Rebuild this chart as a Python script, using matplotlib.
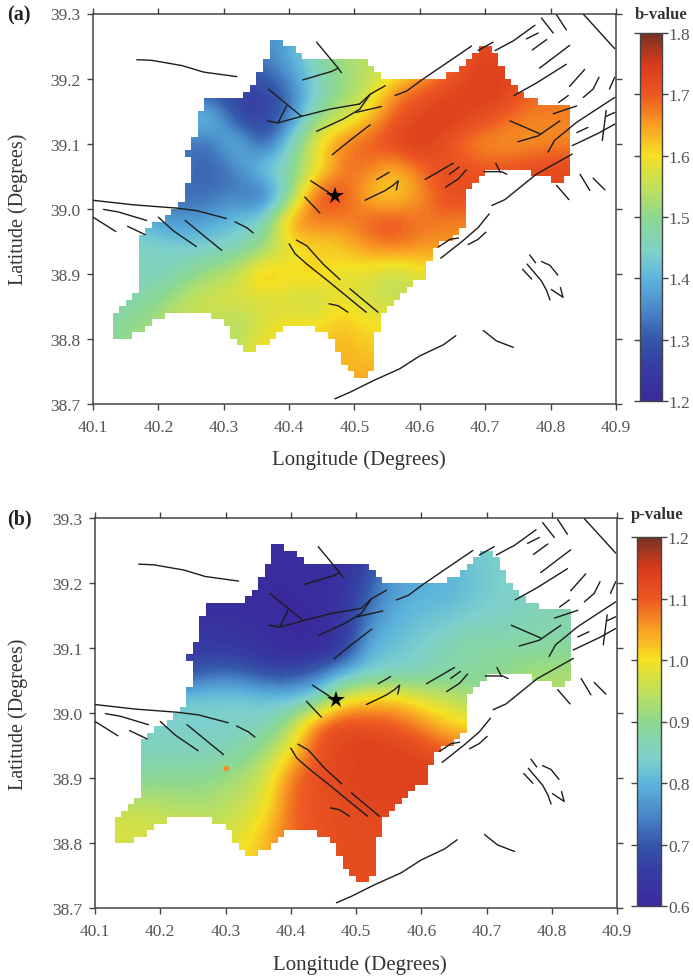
import numpy as np
import matplotlib
matplotlib.use('Agg')
import matplotlib.pyplot as plt
from matplotlib.colors import LinearSegmentedColormap
from matplotlib.patches import Polygon

plt.rcParams['font.family'] = ['Liberation Serif', 'DejaVu Serif']

W, H = 693, 979

# grid nodes of the value maps
grid_lon = [40.12, 40.16, 40.20, 40.24, 40.28, 40.32, 40.36, 40.40, 40.44, 40.48,
            40.52, 40.56, 40.60, 40.64, 40.68, 40.72, 40.76, 40.80, 40.84]
grid_lat = [39.26, 39.22, 39.18, 39.14, 39.10, 39.06, 39.02, 38.98, 38.94, 38.90, 38.86, 38.82, 38.78, 38.74]

b_values = [
    [1.30, 1.30, 1.30, 1.30, 1.30, 1.30, 1.36, 1.38, 1.48, 1.52, 1.55, 1.58, 1.60, 1.65, 1.72, 1.72, 1.70, 1.70, 1.70],
    [1.30, 1.30, 1.30, 1.30, 1.30, 1.30, 1.33, 1.38, 1.46, 1.52, 1.54, 1.55, 1.60, 1.68, 1.73, 1.74, 1.72, 1.70, 1.70],
    [1.28, 1.28, 1.28, 1.28, 1.27, 1.27, 1.26, 1.32, 1.44, 1.50, 1.55, 1.66, 1.70, 1.72, 1.74, 1.75, 1.70, 1.68, 1.68],
    [1.42, 1.42, 1.42, 1.42, 1.45, 1.26, 1.26, 1.32, 1.50, 1.55, 1.62, 1.70, 1.73, 1.76, 1.73, 1.70, 1.67, 1.67, 1.67],
    [1.33, 1.33, 1.33, 1.33, 1.31, 1.45, 1.27, 1.45, 1.60, 1.68, 1.70, 1.73, 1.76, 1.70, 1.66, 1.65, 1.65, 1.66, 1.66],
    [1.33, 1.33, 1.33, 1.33, 1.31, 1.33, 1.46, 1.47, 1.57, 1.67, 1.68, 1.62, 1.68, 1.72, 1.71, 1.70, 1.72, 1.73, 1.73],
    [1.35, 1.33, 1.30, 1.32, 1.32, 1.35, 1.28, 1.47, 1.72, 1.72, 1.62, 1.60, 1.65, 1.72, 1.72, 1.72, 1.72, 1.72, 1.72],
    [1.42, 1.42, 1.38, 1.36, 1.38, 1.42, 1.45, 1.68, 1.68, 1.66, 1.70, 1.72, 1.68, 1.68, 1.66, 1.66, 1.66, 1.66, 1.66],
    [1.46, 1.46, 1.45, 1.44, 1.44, 1.46, 1.50, 1.58, 1.60, 1.62, 1.66, 1.68, 1.66, 1.65, 1.65, 1.65, 1.65, 1.65, 1.65],
    [1.47, 1.46, 1.44, 1.48, 1.53, 1.55, 1.66, 1.60, 1.63, 1.58, 1.58, 1.54, 1.58, 1.60, 1.60, 1.60, 1.60, 1.60, 1.60],
    [1.46, 1.47, 1.50, 1.55, 1.57, 1.58, 1.56, 1.57, 1.54, 1.60, 1.56, 1.55, 1.55, 1.55, 1.55, 1.55, 1.55, 1.55, 1.55],
    [1.48, 1.50, 1.53, 1.55, 1.55, 1.52, 1.58, 1.60, 1.60, 1.63, 1.60, 1.60, 1.60, 1.60, 1.60, 1.60, 1.60, 1.60, 1.60],
    [1.50, 1.52, 1.54, 1.55, 1.55, 1.55, 1.60, 1.62, 1.62, 1.64, 1.62, 1.62, 1.62, 1.62, 1.62, 1.62, 1.62, 1.62, 1.62],
    [1.50, 1.52, 1.54, 1.55, 1.55, 1.55, 1.60, 1.62, 1.62, 1.64, 1.64, 1.64, 1.64, 1.64, 1.64, 1.64, 1.64, 1.64, 1.64],
]

p_values = [
    [.62, .62, .62, .62, .62, .62, .62, .62, .62, .63, .66, .72, .78, .80, .84, .84, .85, .85, .85],
    [.62, .62, .62, .62, .62, .62, .61, .61, .62, .62, .68, .78, .78, .80, .82, .84, .85, .85, .85],
    [.62, .62, .62, .61, .60, .61, .60, .60, .61, .62, .72, .78, .80, .80, .82, .84, .85, .86, .86],
    [.64, .64, .64, .63, .63, .62, .62, .60, .60, .64, .75, .80, .82, .83, .85, .85, .86, .87, .87],
    [.66, .66, .66, .65, .65, .64, .62, .60, .60, .63, .80, .82, .84, .87, .88, .88, .88, .88, .88],
    [.72, .70, .68, .68, .72, .72, .68, .68, .72, .80, .84, .84, .86, .87, .88, .90, .92, .93, .93],
    [.83, .83, .83, .84, .84, .84, .83, .82, .85, 1.00, 1.02, 1.03, .98, .96, .92, .92, .93, .93, .93],
    [.84, .84, .84, .84, .84, .85, .85, .93, 1.10, 1.13, 1.12, 1.10, 1.07, 1.02, 1.00, 1.00, 1.00, 1.00, 1.00],
    [.85, .85, .86, .86, .85, .87, .92, 1.00, 1.11, 1.13, 1.14, 1.14, 1.13, 1.10, 1.10, 1.10, 1.10, 1.10, 1.10],
    [.88, .88, .89, .89, .90, .93, .96, 1.08, 1.12, 1.13, 1.14, 1.14, 1.14, 1.14, 1.14, 1.14, 1.14, 1.14, 1.14],
    [.95, .95, .94, .93, .93, .95, .98, 1.09, 1.11, 1.12, 1.13, 1.13, 1.13, 1.13, 1.13, 1.13, 1.13, 1.13, 1.13],
    [.97, .97, .97, .96, .96, .97, 1.02, 1.09, 1.11, 1.12, 1.12, 1.12, 1.12, 1.12, 1.12, 1.12, 1.12, 1.12, 1.12],
    [.97, .97, .97, .97, .98, 1.00, 1.03, 1.08, 1.10, 1.12, 1.12, 1.12, 1.12, 1.12, 1.12, 1.12, 1.12, 1.12, 1.12],
    [.97, .97, .97, .97, .98, 1.00, 1.03, 1.08, 1.10, 1.12, 1.12, 1.12, 1.12, 1.12, 1.12, 1.12, 1.12, 1.12, 1.12],
]

# the little orange cell in panel b
p_spot_lon = [40.30]
p_spot_lat = [38.915]
p_spot_val = [1.06]

# stair edge of the mapped area: run along the last lat up to lon, then move to lat
edge_steps = [
    (40.13, 38.84), (40.14, 38.85), (40.15, 38.86), (40.16, 38.87), (40.17, 38.96), (40.18, 38.97), (40.19, 38.98),
    (40.21, 38.99), (40.22, 39.00), (40.23, 39.01), (40.24, 39.04), (40.25, 39.08), (40.24, 39.09), (40.25, 39.11),
    (40.26, 39.15), (40.27, 39.17), (40.33, 39.18), (40.34, 39.19), (40.35, 39.21), (40.36, 39.23), (40.37, 39.26),
    (40.39, 39.25), (40.41, 39.24), (40.42, 39.23), (40.52, 39.22), (40.53, 39.21), (40.54, 39.20), (40.64, 39.21),
    (40.66, 39.22), (40.67, 39.23), (40.68, 39.24), (40.69, 39.25), (40.71, 39.24), (40.72, 39.22), (40.73, 39.20),
    (40.74, 39.19), (40.75, 39.18), (40.76, 39.17), (40.78, 39.16), (40.83, 39.05), (40.82, 39.04), (40.80, 39.05),
    (40.77, 39.06), (40.70, 39.05), (40.69, 39.04), (40.68, 39.03), (40.67, 38.97), (40.66, 38.96), (40.65, 38.95),
    (40.63, 38.94), (40.62, 38.92), (40.61, 38.89), (40.59, 38.88), (40.58, 38.87), (40.57, 38.86), (40.56, 38.85),
    (40.55, 38.84), (40.54, 38.81), (40.53, 38.75), (40.52, 38.74), (40.50, 38.75), (40.49, 38.76), (40.48, 38.78),
    (40.47, 38.80), (40.46, 38.81), (40.44, 38.82), (40.39, 38.81), (40.38, 38.80), (40.37, 38.79), (40.35, 38.78),
    (40.33, 38.79), (40.32, 38.80), (40.31, 38.82), (40.30, 38.83), (40.28, 38.84), (40.21, 38.83), (40.19, 38.82),
    (40.18, 38.81), (40.16, 38.80), (40.13, 38.80),
]

faults = [
    [(40.167, 39.229), (40.190, 39.228), (40.236, 39.220), (40.269, 39.210), (40.320, 39.203)],
    [(40.442, 39.256), (40.475, 39.216), (40.480, 39.209)],
    [(40.421, 39.198), (40.465, 39.211), (40.475, 39.216)],
    [(40.368, 39.184), (40.396, 39.161), (40.419, 39.142)],
    [(40.383, 39.132), (40.396, 39.158)],
    [(40.367, 39.135), (40.383, 39.132), (40.419, 39.142), (40.462, 39.153), (40.508, 39.161)],
    [(40.508, 39.161), (40.524, 39.176), (40.547, 39.189)],
    [(40.442, 39.119), (40.483, 39.138), (40.508, 39.153), (40.524, 39.176)],
    [(40.502, 39.148), (40.541, 39.157)],
    [(40.466, 39.083), (40.493, 39.105), (40.524, 39.129)],
    [(40.562, 39.174), (40.580, 39.181), (40.603, 39.198), (40.679, 39.250)],
    [(40.689, 39.243), (40.712, 39.256)],
    [(40.715, 39.243), (40.743, 39.258), (40.776, 39.282)],
    [(40.763, 39.261), (40.781, 39.270)],
    [(40.772, 39.244), (40.794, 39.260)],
    [(40.786, 39.293), (40.804, 39.270)],
    [(40.809, 39.298), (40.824, 39.275)],
    [(40.850, 39.299), (40.898, 39.246)],
    [(40.783, 39.216), (40.829, 39.251)],
    [(40.744, 39.174), (40.778, 39.193), (40.824, 39.222)],
    [(40.829, 39.188), (40.852, 39.214)],
    [(40.850, 39.171), (40.865, 39.184), (40.874, 39.202)],
    [(40.890, 39.184), (40.898, 39.202)],
    [(40.812, 39.163), (40.827, 39.174)],
    [(40.804, 39.146), (40.840, 39.158)],
    [(40.738, 39.135), (40.784, 39.115)],
    [(40.750, 39.103), (40.781, 39.112), (40.814, 39.135)],
    [(40.796, 39.087), (40.806, 39.105), (40.840, 39.133), (40.898, 39.171)],
    [(40.840, 39.117), (40.857, 39.125)],
    [(40.833, 39.097), (40.873, 39.116), (40.898, 39.130)],
    [(40.885, 39.151), (40.879, 39.105)],
    [(40.898, 39.148), (40.885, 39.142)],
    [(40.710, 39.005), (40.730, 39.014), (40.778, 39.053), (40.833, 39.084)],
    [(40.845, 39.053), (40.860, 39.028)],
    [(40.865, 39.047), (40.883, 39.029)],
    [(40.809, 39.036), (40.828, 39.014)],
    [(40.698, 39.057), (40.725, 39.057), (40.733, 39.053)],
    [(40.716, 39.070), (40.723, 39.056)],
    [(40.608, 39.045), (40.651, 39.070)],
    [(40.645, 39.053), (40.660, 39.064)],
    [(40.639, 39.033), (40.659, 39.046), (40.671, 39.060)],
    [(40.534, 39.045), (40.553, 39.056)],
    [(40.516, 39.013), (40.547, 39.028), (40.559, 39.036), (40.567, 39.043), (40.564, 39.029)],
    [(40.433, 39.043), (40.462, 39.024)],
    [(40.424, 39.018), (40.447, 38.9935)],
    [(40.100, 39.013), (40.162, 39.006), (40.228, 39.001), (40.259, 38.997), (40.304, 38.985)],
    [(40.116, 38.999), (40.139, 38.995), (40.182, 38.982)],
    [(40.100, 38.987), (40.116, 38.977), (40.135, 38.965)],
    [(40.153, 38.973), (40.180, 38.960)],
    [(40.200, 38.987), (40.223, 38.966), (40.258, 38.942)],
    [(40.241, 38.982), (40.269, 38.959), (40.297, 38.936)],
    [(40.317, 38.980), (40.335, 38.971), (40.345, 38.963)],
    [(40.411, 38.952), (40.427, 38.943), (40.452, 38.915), (40.478, 38.891)],
    [(40.400, 38.946), (40.409, 38.931), (40.427, 38.915), (40.462, 38.887), (40.508, 38.849), (40.518, 38.841)],
    [(40.493, 38.877), (40.536, 38.841)],
    [(40.461, 38.854), (40.475, 38.851), (40.490, 38.841)],
    [(40.470, 38.708), (40.493, 38.718), (40.529, 38.736), (40.569, 38.754), (40.600, 38.774), (40.636, 38.791), (40.655, 38.805)],
    [(40.697, 38.813), (40.717, 38.797), (40.743, 38.787)],
    [(40.632, 38.924), (40.666, 38.951), (40.689, 38.971), (40.706, 38.992)],
    [(40.628, 38.941), (40.646, 38.953), (40.659, 38.955)],
    [(40.674, 38.945), (40.689, 38.953), (40.701, 38.964)],
    [(40.757, 38.907), (40.771, 38.892)],
    [(40.768, 38.929), (40.777, 38.917)],
    [(40.764, 38.915), (40.786, 38.889), (40.794, 38.874), (40.799, 38.860)],
    [(40.786, 38.919), (40.799, 38.913), (40.811, 38.898)],
    [(40.801, 38.876), (40.819, 38.864), (40.815, 38.879)],
]

star_lon = 40.47
star_lat = 39.02

lon_ticks = [40.1, 40.2, 40.3, 40.4, 40.5, 40.6, 40.7, 40.8, 40.9]
lat_ticks = [38.7, 38.8, 38.9, 39.0, 39.1, 39.2, 39.3]
b_ticks = [1.2, 1.3, 1.4, 1.5, 1.6, 1.7, 1.8]
p_ticks = [0.6, 0.7, 0.8, 0.9, 1.0, 1.1, 1.2]

cmap = LinearSegmentedColormap.from_list('rainbowish', [
    (0.00, '#3b2a9e'), (0.10, '#353fa3'), (0.17, '#3559ab'), (0.25, '#4a8ac9'), (0.33, '#5cb4dc'),
    (0.40, '#7dd0cc'), (0.50, '#8ed98f'), (0.58, '#c0e05c'), (0.67, '#f6e022'), (0.75, '#f9a022'),
    (0.83, '#ee5a22'), (0.92, '#d83a1c'), (1.00, '#7a3322')], N=128)

GREY = '#444444'
TICKCOL = '#555555'


def px_axes(fig, left, top, right, bottom):
    return fig.add_axes([left / W, 1 - bottom / H, (right - left) / W, (bottom - top) / H])


def edge_path(steps):
    pts = [steps[-1]]
    for lon, lat in steps:
        pts.append((lon, pts[-1][1]))
        pts.append((lon, lat))
    return pts


def draw_panel(fig, box, values, vmin, vmax, ticks, cbox, cname, cname_x, cname_y, tag, tag_y, xlab_y, ylab_x):
    ax = px_axes(fig, *box)
    dl = 0.02
    im = ax.imshow(np.array(values), cmap=cmap, vmin=vmin, vmax=vmax, interpolation='bicubic', aspect='auto',
                   extent=[grid_lon[0] - dl, grid_lon[-1] + dl, grid_lat[-1] - dl, grid_lat[0] + dl], zorder=1)
    clip = Polygon(edge_path(edge_steps), closed=True, transform=ax.transData, fc='none', ec='none')
    ax.add_patch(clip)
    im.set_clip_path(clip)

    for line in faults:
        xs = [pt[0] for pt in line]
        ys = [pt[1] for pt in line]
        ax.plot(xs, ys, color='#1c1c1c', lw=1.0, solid_capstyle='round', zorder=3, clip_on=True)
    ax.plot(star_lon, star_lat, marker='*', color='black', ms=13, mew=0, zorder=4)

    ax.set_xlim(40.1, 40.9)
    ax.set_ylim(38.7, 39.3)
    ax.set_xticks(lon_ticks)
    ax.set_yticks(lat_ticks)
    ax.set_xticklabels(['%.1f' % v for v in lon_ticks])
    ax.set_yticklabels(['%.1f' % v for v in lat_ticks])
    ax.tick_params(direction='out', length=4, width=1, color=GREY, labelsize=12.5, labelcolor=TICKCOL,
                   top=True, right=True)
    ax.tick_params(axis='x', pad=7)
    ax.tick_params(axis='y', pad=5)
    for s in ax.spines.values():
        s.set_color(GREY)
        s.set_linewidth(1.1)

    fig.text(((box[0] + box[2]) / 2 + 4) / W, 1 - xlab_y / H, 'Longitude (Degrees)', ha='center', va='center',
             fontsize=15, color='#333333')
    fig.text(ylab_x / W, 1 - (box[1] + box[3]) / 2 / H, 'Latitude (Degrees)', rotation=90, ha='center', va='center',
             fontsize=14.5, color='#333333')
    fig.text(7 / W, 1 - tag_y / H, tag, fontweight='bold', fontsize=14.5, ha='left', va='center', color='#222222')
    fig.text(cname_x / W, 1 - cname_y / H, cname, fontweight='bold', fontsize=12, ha='center', va='center',
             color='#333333')

    cax = px_axes(fig, *cbox)
    cb = fig.colorbar(im, cax=cax)
    cb.set_ticks(ticks)
    cb.set_ticklabels(['%.1f' % v for v in ticks])
    cax.tick_params(direction='out', length=4, width=1, color=GREY, labelsize=12.5, labelcolor=TICKCOL,
                    left=True, right=True, pad=1)
    cb.outline.set_edgecolor(GREY)
    cb.outline.set_linewidth(1.0)
    return ax


fig = plt.figure(figsize=(W / 100, H / 100), dpi=100)

draw_panel(fig, (93, 14.5, 616, 405), b_values, 1.2, 1.8, b_ticks, (640, 34, 662, 402), 'b-value', 661, 15,
           '(a)', 15, 460, 18)
ax_b = draw_panel(fig, (95, 519, 617, 909), p_values, 0.6, 1.2, p_ticks, (637, 538, 661, 907), 'p-value', 657, 515,
                  '(b)', 519, 965, 18)
ax_b.scatter(p_spot_lon, p_spot_lat, c=p_spot_val, cmap=cmap, vmin=0.6, vmax=1.2, s=16, linewidths=0, zorder=2)

fig.savefig('out.png', dpi=100)
